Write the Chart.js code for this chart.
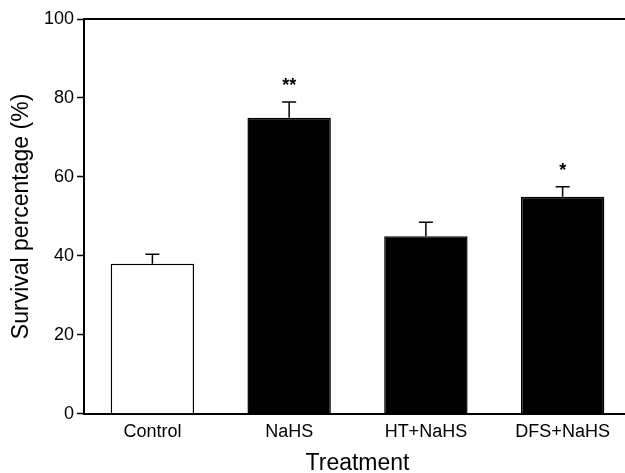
<!DOCTYPE html>
<html>
<head>
<meta charset="utf-8">
<script src="https://cdn.jsdelivr.net/npm/chart.js@4"></script>
<style>
    body { margin: 0; background: white; overflow: hidden; }
    #chart-box { width: 631px; height: 473px; }
</style>
</head>
<body>
<div id="chart-box"><canvas id="survival-canvas"></canvas></div>
<script>
const treatments = ["Control", "NaHS", "HT+NaHS", "DFS+NaHS"];
const survival = [38, 75, 45, 55];
const survivalErr = [2.4, 4, 3.5, 2.5];
const significance = ["", "**", "", "*"];
const barFills = ["white", "black", "black", "black"];
const yTicks = [0, 20, 40, 60, 80, 100];

const fontFamily = "'Liberation Sans', Arial, sans-serif";

// error bars (upper only) + significance stars + frame top line
const errorBars = {
    id: "errorBars",
    afterDatasetsDraw(chart) {
        const ctx = chart.ctx;
        const yScale = chart.scales.y;
        const meta = chart.getDatasetMeta(0);
        ctx.save();
        ctx.strokeStyle = "black";
        ctx.lineWidth = 1.5;
        meta.data.forEach((bar, i) => {
            const yBar = yScale.getPixelForValue(survival[i]);
            const yTop = yScale.getPixelForValue(survival[i] + survivalErr[i]);
            ctx.beginPath();
            ctx.moveTo(bar.x, yBar);
            ctx.lineTo(bar.x, yTop);
            ctx.moveTo(bar.x - 7, yTop);
            ctx.lineTo(bar.x + 7, yTop);
            ctx.stroke();
            if (significance[i]) {
                ctx.fillStyle = "black";
                ctx.font = "bold 18px " + fontFamily;
                ctx.textAlign = "center";
                ctx.textBaseline = "middle";
                ctx.fillText(significance[i], bar.x, yTop - 16);
            }
        });
        // top frame line
        const top = yScale.getPixelForValue(100);
        ctx.lineWidth = 2;
        ctx.beginPath();
        ctx.moveTo(chart.chartArea.left, top);
        ctx.lineTo(chart.width, top);
        ctx.stroke();
        ctx.restore();
    }
};

const survivalChart = new Chart(document.getElementById("survival-canvas"), {
    type: "bar",
    data: {
        labels: treatments,
        datasets: [{
            data: survival,
            backgroundColor: barFills,
            borderColor: "black",
            borderWidth: 1.5,
            categoryPercentage: 1,
            barPercentage: 0.61
        }]
    },
    options: {
        responsive: true,
        maintainAspectRatio: false,
        animation: false,
        layout: { padding: { top: 19, right: 0, left: 10, bottom: 0 } },
        plugins: {
            legend: { display: false },
            tooltip: { enabled: false }
        },
        scales: {
            x: {
                grid: { display: false, drawTicks: false },
                border: { color: "black", width: 2 },
                ticks: {
                    color: "black",
                    padding: 7,
                    font: { family: fontFamily, size: 18 }
                },
                title: {
                    display: true,
                    text: "Treatment",
                    color: "black",
                    padding: { top: 4, bottom: 0 },
                    font: { family: fontFamily, size: 23, lineHeight: 0.85 }
                }
            },
            y: {
                min: 0,
                max: 100,
                afterBuildTicks: (scale) => {
                    scale.ticks = yTicks.map(v => ({ value: v }));
                },
                grid: {
                    drawOnChartArea: false,
                    tickLength: 7,
                    tickColor: "black",
                    tickWidth: 1.5
                },
                border: { color: "black", width: 2 },
                ticks: {
                    color: "black",
                    padding: 3,
                    font: { family: fontFamily, size: 18 }
                },
                title: {
                    display: true,
                    text: "Survival percentage (%)",
                    color: "black",
                    padding: { top: 0, bottom: 8 },
                    font: { family: fontFamily, size: 23, lineHeight: 1 }
                }
            }
        }
    },
    plugins: [errorBars]
});
</script>
</body>
</html>
